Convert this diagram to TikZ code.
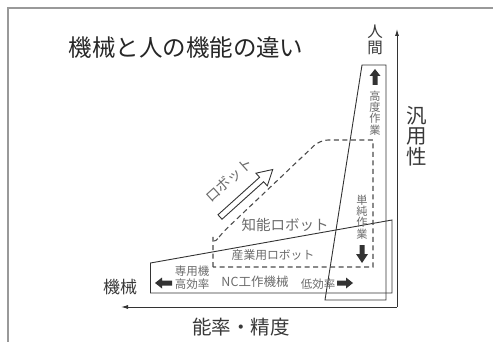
\documentclass[tikz,border=0pt]{standalone}
\usepackage{fontspec}
\setmainfont{Noto Sans CJK JP}
\usetikzlibrary{arrows.meta}
\begin{document}
\begin{tikzpicture}[x=1pt,y=-1pt,
  outline/.style={draw=black!80,line width=0.9pt},
  dashline/.style={draw=black!70,line width=1.1pt,dash pattern=on 5pt off 3.5pt},
  axisline/.style={draw=black!80,line width=0.9pt,-{Latex[length=7pt,width=4pt]}},
  lbl/.style={text=black!58,inner sep=0pt},
  dark/.style={text=black!78,inner sep=0pt},
  blk/.style={fill=black!80,draw=none},
  fs/.style={font=\fontsize{#1}{#1}\selectfont},
  vs/.style={font=\fontsize{#1}{#1}\selectfont,align=center}
]
\useasboundingbox (0,0) rectangle (493,342);
% frame
\draw[black!40,line width=1.3pt] (8,342) -- (8,8) -- (493,8);

% title
\node[dark,fs=23.5,text=black!85] (title) at (186,48) {機械と人の機能の違い};

% axes
\coordinate (corner) at (397,307);
\coordinate (ytop) at (397,29);
\coordinate (xleft) at (121,307);
\draw[axisline] (corner) -- (ytop);
\draw[axisline] (corner) -- (xleft);

\node[dark,vs=15.5] (human) at (375,40) {人\\[0.5pt]間};
\node[dark,vs=20.5] (generality) at (417,136) {汎\\用\\性};
\node[dark,fs=17] (machine) at (120,287) {機械};
\node[dark,fs=19.5] (efficiency) at (241,327) {能率・精度};

% human region
\draw[outline] (362,65) -- (386,65) -- (386,300) -- (325,300) -- cycle;
% machine region
\draw[outline] (150.5,263) -- (392,220) -- (392,293) -- (150.5,293) -- cycle;
% robot region (dashed)
\draw[dashline] (213,267) -- (213,242) [rounded corners=8pt] -- (213,245) -- (222,233) -- (320,140) [sharp corners] -- (373,140) -- (373,267) -- cycle;

% hollow arrow "robot"
\begin{scope}[shift={(220,217)},rotate=42]
  \draw[draw=black!80,line width=0.9pt,fill=white]
    (0,-3) -- (56,-3) -- (56,-8.5) -- (71,0) -- (56,8.5) -- (56,3) -- (0,3) -- cycle;
\end{scope}
\node[lbl,fs=14.5,rotate=42] (robot) at (229,180) {ロボット};

% inner labels
\node[lbl,fs=14.5] (intelligent) at (285,225) {知能ロボット};
\node[lbl,fs=11.8] (industrial) at (273,255) {産業用ロボット};
\node[lbl,fs=12.5] (nc) at (255,282) {NC工作機械};
\node[lbl,vs=11.5] (special) at (192,278) {専用機\\[1.5pt]高効率};
\node[lbl,fs=11.5] (loweff) at (318,284) {低効率};
\node[lbl,vs=11.2] (advanced) at (375,113) {高\\度\\作\\業};
\node[lbl,vs=11.2] (simple) at (362,217) {単\\純\\作\\業};

% black block arrows
\fill[blk] (155,283) -- (162,277.5) -- (162,280.5) -- (172,280.5) -- (172,285.5) -- (162,285.5) -- (162,288.5) -- cycle;
\fill[blk] (353,283) -- (346,277.5) -- (346,280.5) -- (337,280.5) -- (337,285.5) -- (346,285.5) -- (346,288.5) -- cycle;
\fill[blk] (375,69) -- (369.5,76) -- (372.5,76) -- (372.5,85) -- (377.5,85) -- (377.5,76) -- (380.5,76) -- cycle;
\fill[blk] (362,263) -- (356,254) -- (359.5,254) -- (359.5,245) -- (364.5,245) -- (364.5,254) -- (368,254) -- cycle;
\end{tikzpicture}
\end{document}
